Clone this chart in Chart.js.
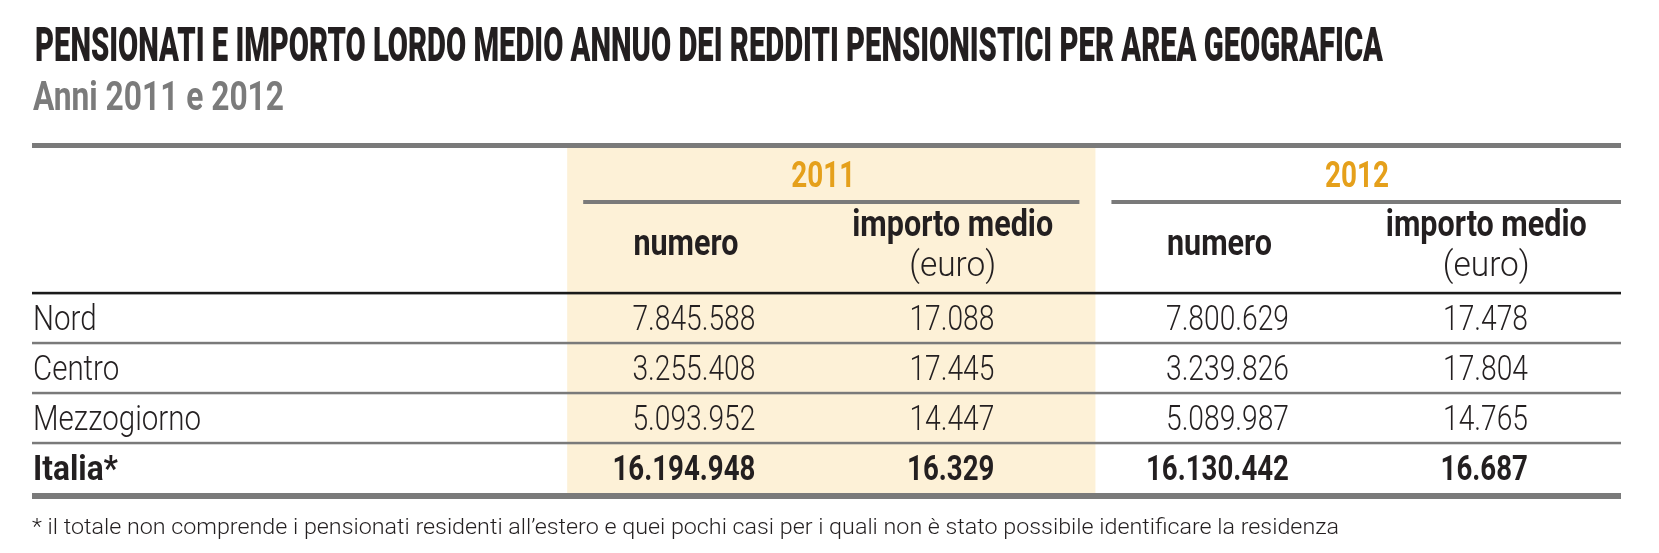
<!DOCTYPE html>
<html><head><meta charset="utf-8">
<script src="https://cdn.jsdelivr.net/npm/chart.js@4.4.1/dist/chart.umd.min.js"></script>
<style>html,body{margin:0;padding:0;background:#fff;overflow:hidden}#wrap{width:1659px;height:553px;position:relative}</style>
</head><body><div id="wrap"><canvas id="c" width="1659" height="553"></canvas></div>
<script>
// ---- data ----
const titleText = 'PENSIONATI E IMPORTO LORDO MEDIO ANNUO DEI REDDITI PENSIONISTICI PER AREA GEOGRAFICA';
const subtitleText = 'Anni 2011 e 2012';
const footnoteText = '* il totale non comprende i pensionati residenti all\u2019estero e quei pochi casi per i quali non \u00e8 stato possibile identificare la residenza';
const areas = ['Nord', 'Centro', 'Mezzogiorno', 'Italia*'];
const years = ['2011', '2012'];
const measures = ['numero', 'importo medio'];
const measureUnits = ['', '(euro)'];
const numero2011 = [7845588, 3255408, 5093952, 16194948];
const importo2011 = [17088, 17445, 14447, 16329];
const numero2012 = [7800629, 3239826, 5089987, 16130442];
const importo2012 = [17478, 17804, 14765, 16687];

// ---- styles ----
const FAM = 'Roboto, "Liberation Sans", sans-serif';
const DARK = '#231f20';
const GRAY = '#7a7a7a';
const YELLOW = '#fdf1d7';
const ORANGE = '#e5a01b';
const styles = {
  title:  {weight: 900, size: 48, color: DARK,   sample: titleText, width: 1348},
  sub:    {weight: 700, size: 40, color: '#7b7b7b', sample: subtitleText, width: 251},
  year:   {weight: 700, size: 36, color: ORANGE, sample: '2012', width: 64},
  head:   {weight: 700, size: 36, color: DARK,   sample: 'numero', width: 105},
  unit:   {weight: 300, size: 35, color: DARK,   sample: '(euro)', width: 87},
  label:  {weight: 300, size: 35, color: DARK,   sample: 'Mezzogiorno', width: 168},
  num:    {weight: 300, size: 35, color: DARK,   sample: '7.845.588', width: 123},
  blabel: {weight: 700, size: 35, color: DARK,   sample: 'Italia*', width: 85},
  bnum:   {weight: 700, size: 35, color: DARK,   sample: '16.194.948', width: 143},
  foot:   {weight: 300, size: 22, color: DARK,   sample: footnoteText, width: 1307}
};
const CAP = 0.711;
const CELL_SHIFT = -4;

function fmt(n) { return String(n).replace(/\B(?=(\d{3})+(?!\d))/g, '.'); }
function setFont(ctx, st) { ctx.font = st.weight + ' ' + st.size + 'px ' + FAM; }
function calib(ctx) {
  for (const k in styles) {
    const st = styles[k];
    setFont(ctx, st);
    st.sx = st.width / ctx.measureText(st.sample).width;
  }
}
function textW(ctx, text, st) { setFont(ctx, st); return ctx.measureText(text).width * st.sx; }
function drawText(ctx, text, x, y, st, align) {
  ctx.save();
  setFont(ctx, st);
  ctx.fillStyle = st.color;
  ctx.textAlign = 'left';
  ctx.textBaseline = 'alphabetic';
  const w = ctx.measureText(text).width * st.sx;
  const x0 = align === 'center' ? x - w / 2 : align === 'right' ? x - w : x;
  ctx.translate(x0, y);
  ctx.scale(st.sx, 1);
  ctx.fillText(text, 0, 0);
  ctx.restore();
}

const columns = [numero2011, importo2011, numero2012, importo2012];
const datasets = columns.map((vals, c) => ({
  label: measures[c % 2] + ' ' + years[Math.floor(c / 2)],
  data: vals.map((v, r) => ({x: c + 0.5, y: r + 0.5, v: v})),
  pointRadius: 0, pointHoverRadius: 0, showLine: false
}));

const tablePlugin = {
  id: 'table',
  beforeDraw(chart) {
    const ctx = chart.ctx, a = chart.chartArea, xs = chart.scales.x;
    calib(ctx);
    ctx.save();
    // 2011 band
    ctx.fillStyle = YELLOW;
    const bx0 = xs.getPixelForValue(0.04), bx1 = xs.getPixelForValue(2.02);
    ctx.fillRect(bx0, a.top, bx1 - bx0, a.bottom - a.top);
    ctx.restore();
  },
  afterDraw(chart) {
    const ctx = chart.ctx, a = chart.chartArea, xs = chart.scales.x, ys = chart.scales.y;
    ctx.save();
    // rules
    ctx.fillStyle = GRAY;
    ctx.fillRect(a.left, a.top - 5, a.right - a.left, 5);
    ctx.fillRect(a.left, a.bottom, a.right - a.left, 6);
    for (let r = 1; r < areas.length; r++) {
      const y = ys.getPixelForValue(r);
      ctx.fillRect(a.left, y - 1.2, a.right - a.left, 2.5);
    }
    // year sub-rules
    const ry = ys.getPixelForValue(-1.82);
    [[0.1, 1.96], [2.08, 4]].forEach(([u0, u1]) => {
      const x0 = xs.getPixelForValue(u0), x1 = Math.min(a.right, xs.getPixelForValue(u1));
      ctx.fillRect(x0, ry - 2, x1 - x0, 4);
    });
    ctx.fillStyle = '#1a1a1a';
    const hy = ys.getPixelForValue(0);
    ctx.fillRect(a.left, hy - 1.2, a.right - a.left, 2.6);
    ctx.restore();

    // title / subtitle / footnote
    drawText(ctx, titleText, a.left + 3, a.top - 87, styles.title, 'left');
    drawText(ctx, subtitleText, a.left + 1, a.top - 38, styles.sub, 'left');
    drawText(ctx, footnoteText, a.left, a.bottom + 41, styles.foot, 'left');

    // year headers
    years.forEach((yr, g) => {
      const x = xs.getPixelForValue(g * 2 + 1);
      const y = ys.getPixelForValue(-2.37) + styles.year.size * CAP / 2;
      drawText(ctx, yr, x, y, styles.year, 'center');
    });
    // measure headers
    columns.forEach((vals, c) => {
      const x = xs.getPixelForValue(c + 0.5) + CELL_SHIFT;
      const m = c % 2;
      if (measureUnits[m]) {
        drawText(ctx, measures[m], x, ys.getPixelForValue(-1.14), styles.head, 'center');
        drawText(ctx, measureUnits[m], x, ys.getPixelForValue(-0.34), styles.unit, 'center');
      } else {
        drawText(ctx, measures[m], x, ys.getPixelForValue(-0.76), styles.head, 'center');
      }
    });
    // row labels
    const last = areas.length - 1;
    areas.forEach((name, r) => {
      const st = r === last ? styles.blabel : styles.label;
      const y = ys.getPixelForValue(r + 0.5) + st.size * CAP / 2;
      drawText(ctx, name, a.left + 1, y, st, 'left');
    });
    // cells, positioned from the dataset elements
    chart.data.datasets.forEach((ds, c) => {
      const meta = chart.getDatasetMeta(c);
      let maxW = 0;
      ds.data.forEach((d, r) => {
        maxW = Math.max(maxW, textW(ctx, fmt(d.v), r === last ? styles.bnum : styles.num));
      });
      meta.data.forEach((el, r) => {
        const st = r === last ? styles.bnum : styles.num;
        const y = el.y + st.size * CAP / 2;
        drawText(ctx, fmt(ds.data[r].v), el.x + maxW / 2 + CELL_SHIFT * 1.5, y, st, 'right');
      });
    });
  }
};

new Chart(document.getElementById('c'), {
  type: 'scatter',
  data: {datasets: datasets},
  options: {
    responsive: false,
    animation: false,
    devicePixelRatio: 1,
    layout: {padding: {left: 32, right: 38, top: 148, bottom: 60}},
    scales: {
      x: {type: 'linear', min: -1.966, max: 3.99, display: false},
      y: {type: 'linear', reverse: true, min: -2.9, max: 4, display: false}
    },
    plugins: {legend: {display: false}, tooltip: {enabled: false}, title: {display: false}},
    events: []
  },
  plugins: [tablePlugin]
});
</script>
</body></html>
